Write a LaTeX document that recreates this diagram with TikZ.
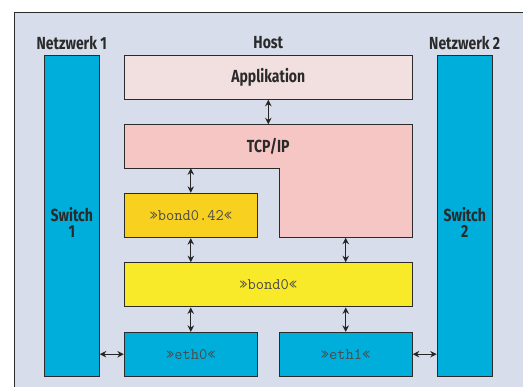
\documentclass[tikz,border=0pt]{standalone}
\usepackage{fontspec}
\newfontfamily\lab{Fira Sans}[FakeStretch=0.8]
\newfontfamily\mono{Latin Modern Mono}
\usetikzlibrary{arrows.meta}
\definecolor{bg}{HTML}{D7DDEA}
\definecolor{sw}{HTML}{00AEDB}
\definecolor{appc}{HTML}{F2E0E0}
\definecolor{tcpc}{HTML}{F5C6C4}
\definecolor{bdc}{HTML}{F8D020}
\definecolor{bzc}{HTML}{F8EA28}
\definecolor{edge}{HTML}{2B2B2B}
\definecolor{txt}{HTML}{2A2A2A}
\tikzset{
  box/.style={draw=edge, line width=0.9pt, rectangle, inner sep=0pt, anchor=center},
  labtext/.style={font=\lab\bfseries\fontsize{17.5}{16}\selectfont, text=txt},
  montext/.style={font=\mono\fontsize{16}{16}\selectfont, text=txt!85!white},
  conn/.style={line width=1pt, draw=black!85, {Stealth[length=6.5pt,width=6.5pt]}-{Stealth[length=6.5pt,width=6.5pt]}}
}
\begin{document}
\begin{tikzpicture}[x=1pt,y=-1pt]
\useasboundingbox (0,0) rectangle (523,387);
\clip (0,0) rectangle (523,387);
\fill[white] (0,0) rectangle (523,387);
\draw[draw=edge, line width=0.9pt, fill=bg] (14.3,12.3) rectangle (540,400);
% labels
\node[labtext] (n1) at (71.8,43) {Netzwerk 1};
\node[labtext] (host) at (268.3,43) {Host};
\node[labtext] (n2) at (464.7,43) {Netzwerk 2};
% switches
\node[box, fill=sw, minimum width=55pt, minimum height=321pt] (sw1) at (71.8,215.5) {};
\node[box, fill=sw, minimum width=55pt, minimum height=321pt] (sw2) at (464.7,215.5) {};
\node[labtext, align=center] (sw1t) at (71.8,222) {Switch\\1};
\node[labtext, align=center] (sw2t) at (464.7,222) {Switch\\2};
% host stack
\node[box, fill=appc, minimum width=288pt, minimum height=44.3pt, labtext] (app) at (268.3,77.2) {Applikation};
\draw[draw=edge, line width=0.9pt, fill=tcpc] (124.3,124.3) -- (412.3,124.3) -- (412.3,237.7) -- (279,237.7) -- (279,168.3) -- (124.3,168.3) -- cycle;
\node[labtext] (tcp) at (268.3,146) {TCP/IP};
\coordinate (tcptop) at (268.3,124.3);
\coordinate (tcpL) at (190.8,168.3);
\coordinate (tcpR) at (345.7,237.7);
\node[box, fill=bdc, minimum width=133pt, minimum height=44.4pt, montext] (b42) at (190.8,215.5) {»bond0.42«};
\node[box, fill=bzc, minimum width=288pt, minimum height=44.3pt, montext] (b0) at (268.3,284.8) {»bond0«};
\node[box, fill=sw, minimum width=133pt, minimum height=43.7pt, montext] (e0) at (190.8,354.2) {»eth0«};
\node[box, fill=sw, minimum width=133.3pt, minimum height=43.7pt, montext] (e1) at (345.7,354.2) {»eth1«};
% connectors
\draw[conn] (app.south) -- (tcptop);
\draw[conn] (tcpL) -- (b42.north);
\draw[conn] (b42.south) -- (b42.south |- b0.north);
\draw[conn] (tcpR) -- (tcpR |- b0.north);
\draw[conn] (b0.south -| e0.north) -- (e0.north);
\draw[conn] (b0.south -| e1.north) -- (e1.north);
\draw[conn] (sw1.east |- e0.west) -- (e0.west);
\draw[conn] (e1.east) -- (sw2.west |- e1.east);
\end{tikzpicture}
\end{document}
